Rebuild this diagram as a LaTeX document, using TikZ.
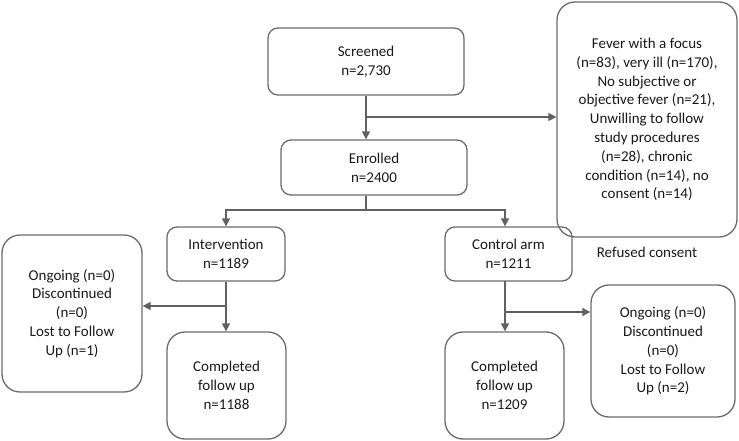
\documentclass[tikz,border=0pt]{standalone}
\usepackage{fontspec}
\setmainfont{Carlito}
\usetikzlibrary{arrows.meta}
\begin{document}
\begin{tikzpicture}[x=1pt, y=-1pt,
        box/.style={draw=black!58, line width=1.3pt, rounded corners=10pt, align=center,
            inner sep=2pt, font=\fontsize{15}{18.8}\selectfont, text=black!90},
        bigbox/.style={box, rounded corners=18pt},
        link/.style={draw=black!62, line width=1.4pt},
        arr/.style={link, -{Triangle[length=8pt, width=8pt]}}]
    \useasboundingbox (0,0) rectangle (739,441);
    % boxes
    \node [box, minimum width=196pt, minimum height=67pt] (screened) at (366,61.5) {Screened\\n=2,730};
    \node [box, minimum width=186pt, minimum height=55pt] (enrolled) at (374,167.5) {Enrolled\\n=2400};
    \node [bigbox, minimum width=180pt, minimum height=235pt] (excluded) at (647,119.5)
        {Fever with a focus\\(n=83), very ill (n=170),\\No subjective or\\objective fever (n=21),\\Unwilling to follow\\study procedures\\(n=28), chronic\\condition (n=14), no\\consent (n=14)};
    \node [font=\fontsize{15}{18.8}\selectfont, text=black!90] (refused) at (647,252) {Refused consent};
    \node [box, minimum width=118pt, minimum height=54pt] (interv) at (226,254) {Intervention\\n=1189};
    \node [box, minimum width=127pt, minimum height=54pt] (control) at (508.5,254) {Control arm\\n=1211};
    \node [bigbox, minimum width=140pt, minimum height=157pt] (lostA) at (72,313.5) {Ongoing (n=0)\\Discontinued\\(n=0)\\Lost to Follow\\Up (n=1)};
    \node [bigbox, minimum width=119pt, minimum height=107pt] (doneA) at (226.5,385.5) {Completed\\follow up\\n=1188};
    \node [bigbox, minimum width=119pt, minimum height=107pt] (doneB) at (504.5,385.5) {Completed\\follow up\\n=1209};
    \node [bigbox, minimum width=144pt, minimum height=132pt] (lostB) at (663,351) {Ongoing (n=0)\\Discontinued\\(n=0)\\Lost to Follow\\Up (n=2)};
    % junctions
    \coordinate (s1) at (366,117);
    \coordinate (e1) at (366,210);
    \coordinate (a1) at (226,306);
    \coordinate (c0) at (505,281);
    \coordinate (c1) at (505,312);
    % connectors
    \draw [arr] (screened.south) -- (screened.south |- enrolled.north);
    \draw [arr] (s1) -- (s1 -| excluded.west);
    \draw [link] (enrolled.south -| e1) -- (e1);
    \draw [arr] (e1) -| (interv.north);
    \draw [arr] (e1) -| (control.north -| c0);
    \draw [arr] (interv.south) -- (doneA.north -| interv.south);
    \draw [arr] (a1) -- (a1 -| lostA.east);
    \draw [arr] (c0) -- (c0 |- doneB.north);
    \draw [arr] (c1) -- (c1 -| lostB.west);
\end{tikzpicture}
\end{document}
